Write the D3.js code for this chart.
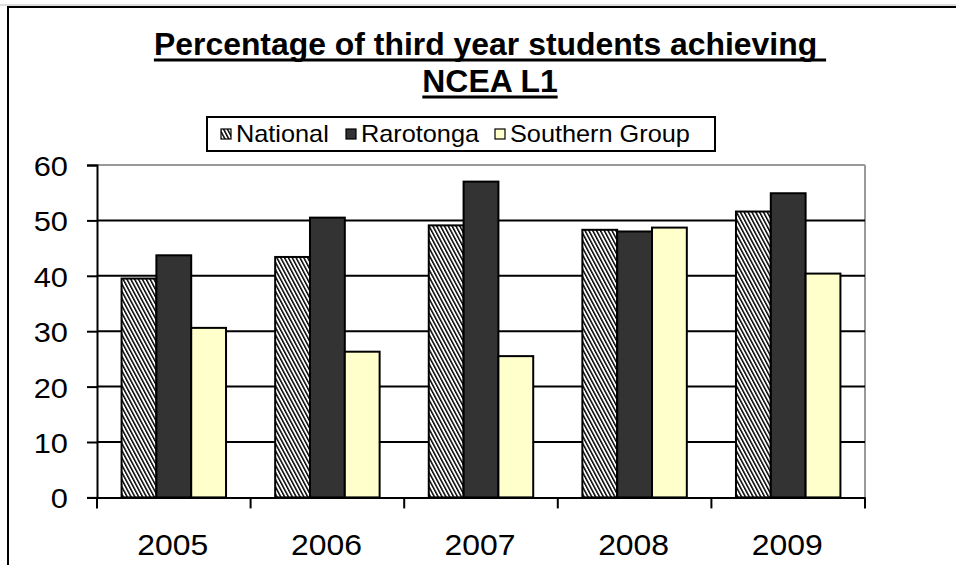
<!DOCTYPE html>
<html>
<head>
<meta charset="utf-8">
<script src="https://cdn.jsdelivr.net/npm/d3@7"></script>
<style>
  html, body { margin: 0; padding: 0; background: #fff; }
  svg { display: block; }
  text { font-family: Arial, "Liberation Sans", sans-serif; fill: #000; }
</style>
</head>
<body>
<svg id="chart" width="956" height="565"></svg>
<script>
// ---- data ----
const years = ["2005", "2006", "2007", "2008", "2009"];
const seriesNames = ["National", "Rarotonga", "Southern Group"];
const national = [39.5, 43.4, 49.1, 48.3, 51.6];
const rarotonga = [43.7, 50.5, 57.0, 48.0, 54.9];
const southern = [30.6, 26.3, 25.5, 48.7, 40.4];
const yTicks = [0, 10, 20, 30, 40, 50, 60];
const titleLines = ["Percentage of third year students achieving ", "NCEA L1"];

const seriesValues = [national, rarotonga, southern];

(function () {
const svg = d3.select("#chart");
const W = 956, H = 565;
const SX = 1.1; // horizontal stretch of text seen in the reference

// pattern for National
const defs = svg.append("defs");
const pat = defs.append("pattern")
  .attr("id", "hatch")
  .attr("patternUnits", "userSpaceOnUse")
  .attr("width", 3.4).attr("height", 4)
  .attr("patternTransform", "rotate(-28)");
pat.append("rect").attr("width", 3.4).attr("height", 4).attr("fill", "#fff");
pat.append("rect").attr("x", 0).attr("y", 0).attr("width", 1.5).attr("height", 4).attr("fill", "#000");

const fills = ["url(#hatch)", "#333333", "#FFFFCC"];

// outer border
svg.append("line").attr("x1", 0).attr("x2", W).attr("y1", 5).attr("y2", 5).attr("stroke", "#bbb").attr("stroke-width", 1);
svg.append("line").attr("x1", 7).attr("x2", W).attr("y1", 7).attr("y2", 7).attr("stroke", "#000").attr("stroke-width", 2);
svg.append("line").attr("x1", 8).attr("x2", 8).attr("y1", 6).attr("y2", H).attr("stroke", "#000").attr("stroke-width", 2);

function stretchedText(g, x, y, str, size, weight, anchor, sx) {
  const s = sx == null ? SX : sx;
  const t = g.append("text")
    .attr("transform", `translate(${x},${y}) scale(${s},1)`)
    .attr("font-size", size)
    .attr("font-weight", weight || "normal")
    .attr("text-anchor", anchor || "start")
    .style("white-space", "pre")
    .text(str);
  return t;
}

// title
const titleCx = 490;
const titleBase = [55, 92];
titleLines.forEach((s, i) => {
  const t = stretchedText(svg, titleCx, titleBase[i], s, 31, "bold", "middle", 1.03);
  const w = t.node().getComputedTextLength() * 1.03;
  svg.append("line")
    .attr("x1", titleCx - w / 2).attr("x2", titleCx + w / 2)
    .attr("y1", titleBase[i] + 5).attr("y2", titleBase[i] + 5)
    .attr("stroke", "#000").attr("stroke-width", 3);
});

// plot geometry
const pLeft = 97, pRight = 865, pTop = 165, pBottom = 497.4;

const x0 = d3.scaleBand().domain(years).range([pLeft, pRight]).paddingInner(0).paddingOuter(0);
const groupFrac = 0.68;
const x1 = d3.scaleBand().domain(seriesNames)
  .range([x0.bandwidth() * (1 - groupFrac) / 2, x0.bandwidth() * (1 + groupFrac) / 2]);
const y = d3.scaleLinear().domain([0, 60]).range([pBottom, pTop]);

// plot area border (gray top/right)
svg.append("line").attr("x1", pLeft).attr("x2", pRight).attr("y1", pTop).attr("y2", pTop).attr("stroke", "#999").attr("stroke-width", 2);
svg.append("line").attr("x1", pRight).attr("x2", pRight).attr("y1", pTop).attr("y2", pBottom).attr("stroke", "#999").attr("stroke-width", 2);

// gridlines
svg.append("g").selectAll("line").data(yTicks.filter(v => v > 0 && v < 60)).join("line")
  .attr("x1", pLeft).attr("x2", pRight)
  .attr("y1", d => y(d)).attr("y2", d => y(d))
  .attr("stroke", "#000").attr("stroke-width", 2);

// bars
const groups = svg.append("g").selectAll("g").data(years).join("g")
  .attr("transform", d => `translate(${x0(d)},0)`);
groups.selectAll("rect")
  .data((yr, i) => seriesNames.map((s, k) => ({ s, k, v: seriesValues[k][i] })))
  .join("rect")
  .attr("x", d => x1(d.s))
  .attr("width", x1.bandwidth())
  .attr("y", d => y(d.v))
  .attr("height", d => y(0) - y(d.v))
  .attr("fill", d => fills[d.k])
  .attr("stroke", "#000").attr("stroke-width", 2);

// y axis
const yAxis = d3.axisLeft(y).tickValues(yTicks).tickSize(10).tickFormat("");
const yg = svg.append("g").attr("transform", `translate(${pLeft},0)`).call(yAxis);
yg.select(".domain").attr("stroke", "#000").attr("stroke-width", 2);
yg.selectAll(".tick line").attr("stroke", "#000").attr("stroke-width", 2);
yTicks.forEach(v => stretchedText(svg, 68, y(v) + 11, String(v), 28, "normal", "end"));

// x axis
const xAxis = d3.axisBottom(x0).tickSize(0).tickFormat("");
const xg = svg.append("g").attr("transform", `translate(0,${pBottom})`).call(xAxis);
xg.select(".domain").attr("stroke", "#000").attr("stroke-width", 2);
const boundaries = years.map(d => x0(d)).concat([pRight]);
svg.append("g").selectAll("line").data(boundaries).join("line")
  .attr("x1", d => d).attr("x2", d => d)
  .attr("y1", pBottom).attr("y2", pBottom + 11)
  .attr("stroke", "#000").attr("stroke-width", 2);
years.forEach(yr => stretchedText(svg, x0(yr) + x0.bandwidth() / 2 - 1, 555, yr, 29, "normal", "middle"));

// legend
const lg = svg.append("g");
lg.append("rect").attr("x", 207).attr("y", 117).attr("width", 508).attr("height", 34)
  .attr("fill", "#fff").attr("stroke", "#000").attr("stroke-width", 2);
const legendX = [221, 346, 495];
seriesNames.forEach((s, k) => {
  lg.append("rect").attr("x", legendX[k]).attr("y", 129).attr("width", 10).attr("height", 10)
    .attr("fill", fills[k]).attr("stroke", "#000").attr("stroke-width", 1.2);
  stretchedText(lg, legendX[k] + 15, 142, s, 23, "normal", "start");
});
})();
</script>
</body>
</html>
